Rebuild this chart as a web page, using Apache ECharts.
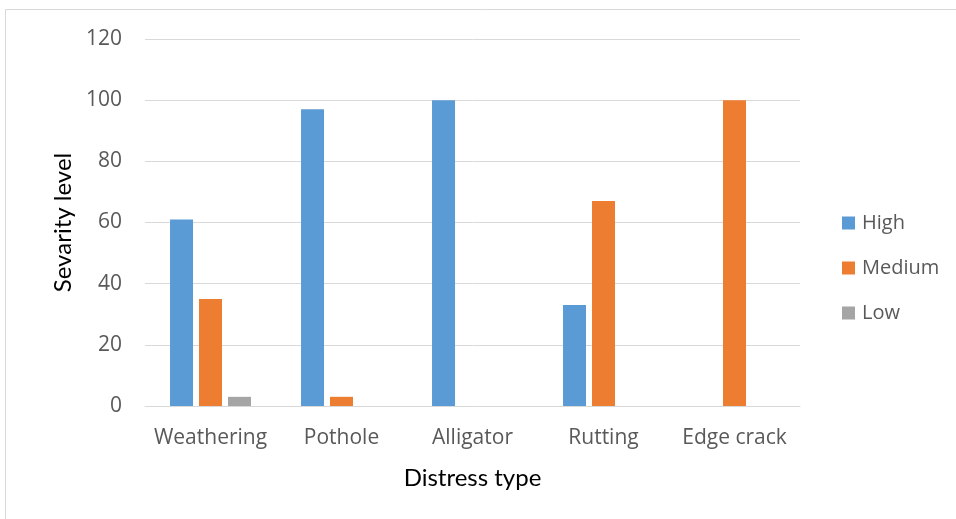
<!DOCTYPE html>
<html>
<head>
<meta charset="utf-8">
<script src="https://cdn.jsdelivr.net/npm/echarts@6/dist/echarts.min.js"></script>
<style>
  html, body { margin: 0; padding: 0; background: #fff; }
  #chart { width: 956px; height: 519px; }
</style>
</head>
<body>
<div id="chart"></div>
<script>
const categories = ['Weathering', 'Pothole', 'Alligator', 'Rutting', 'Edge crack'];
const highValues = [61, 97, 100, 33, 0];
const mediumValues = [35, 3, 0, 67, 100];
const lowValues = [3, 0, 0, 0, 0];
const yTicks = { min: 0, max: 120, interval: 20 };

const labelFont = '"Open Sans", sans-serif';
const titleFont = 'Lato, sans-serif';
const chart = echarts.init(document.getElementById('chart'), null, { renderer: 'canvas' });

function barSeries(name, data, color) {
  return {
    name: name,
    type: 'bar',
    data: data,
    barWidth: 23,
    barGap: '26%',
    itemStyle: { color: color },
    emphasis: { disabled: true }
  };
}

chart.setOption({
  animation: false,
  backgroundColor: '#fff',
  graphic: [{
    type: 'rect',
    shape: { x: 5.5, y: 9.5, width: 1000, height: 600 },
    style: { fill: 'none', stroke: '#d9d9d9', lineWidth: 1 },
    silent: true
  }],
  grid: { left: 145, right: 156, top: 39, bottom: 113 },
  legend: {
    orient: 'vertical',
    left: 842,
    top: 213,
    padding: 0,
    itemWidth: 13,
    itemHeight: 13,
    itemGap: 25,
    icon: 'rect',
    textStyle: { fontFamily: labelFont, fontSize: 20, color: '#595959', padding: [0, 0, 0, 2] },
    data: ['High', 'Medium', 'Low']
  },
  xAxis: {
    type: 'category',
    data: categories,
    name: 'Distress type',
    nameLocation: 'middle',
    nameGap: 60,
    nameTextStyle: { fontFamily: titleFont, fontSize: 24, color: '#000' },
    axisLine: { lineStyle: { color: '#d9d9d9', width: 1 } },
    axisTick: { show: false },
    axisLabel: { interval: 0, fontFamily: labelFont, fontSize: 21, color: '#595959', margin: 22 }
  },
  yAxis: {
    type: 'value',
    min: yTicks.min,
    max: yTicks.max,
    interval: yTicks.interval,
    name: 'Sevarity level',
    nameLocation: 'middle',
    nameGap: 70,
    nameTextStyle: { fontFamily: titleFont, fontSize: 24, color: '#000' },
    axisLine: { show: false },
    axisTick: { show: false },
    splitLine: { lineStyle: { color: '#d9d9d9', width: 1 } },
    axisLabel: { fontFamily: labelFont, fontSize: 21, color: '#595959', margin: 23 }
  },
  series: [
    barSeries('High', highValues, '#5b9bd5'),
    barSeries('Medium', mediumValues, '#ed7d31'),
    barSeries('Low', lowValues, '#a5a5a5')
  ]
});
</script>
</body>
</html>
